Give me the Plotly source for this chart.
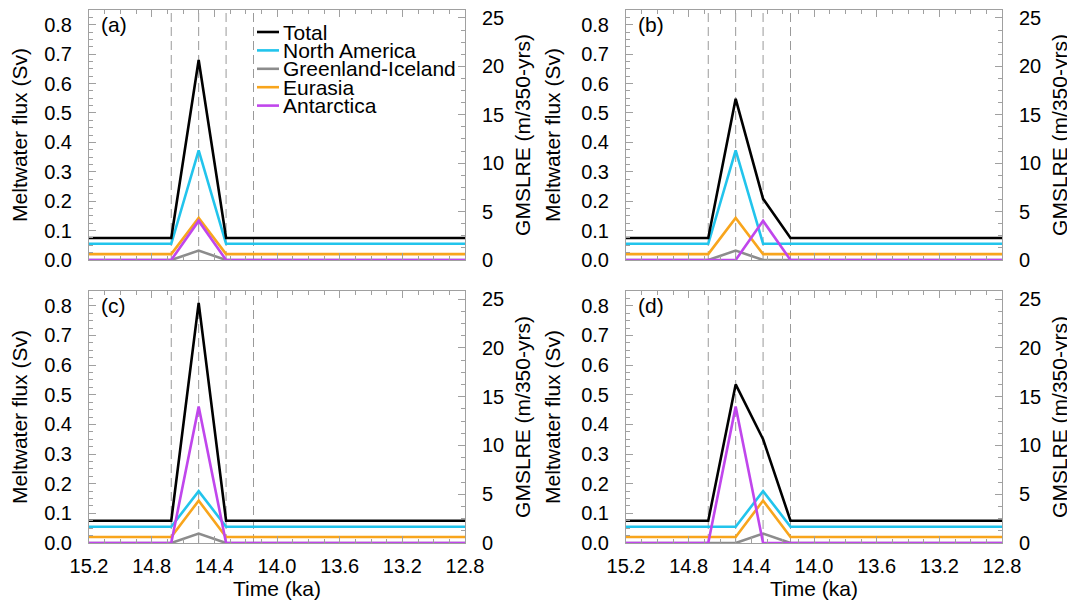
import plotly.graph_objects as go

# ---------------- data ----------------
time_ka = [15.2, 14.675, 14.5, 14.325, 14.15, 12.8]
event_lines = [14.675, 14.5, 14.325, 14.15]

total_a = [0.075, 0.075, 0.680, 0.075, 0.075, 0.075]
na_a = [0.055, 0.055, 0.373, 0.055, 0.055, 0.055]
gi_a = [0.0, 0.0, 0.032, 0.0, 0.0, 0.0]
eu_a = [0.02, 0.02, 0.143, 0.02, 0.02, 0.02]
an_a = [0.0, 0.0, 0.133, 0.0, 0.0, 0.0]

total_b = [0.075, 0.075, 0.548, 0.208, 0.075, 0.075]
na_b = [0.055, 0.055, 0.373, 0.055, 0.055, 0.055]
gi_b = [0.0, 0.0, 0.032, 0.0, 0.0, 0.0]
eu_b = [0.02, 0.02, 0.143, 0.02, 0.02, 0.02]
an_b = [0.0, 0.0, 0.0, 0.133, 0.0, 0.0]

total_c = [0.075, 0.075, 0.810, 0.075, 0.075, 0.075]
na_c = [0.055, 0.055, 0.175, 0.055, 0.055, 0.055]
gi_c = [0.0, 0.0, 0.032, 0.0, 0.0, 0.0]
eu_c = [0.02, 0.02, 0.143, 0.02, 0.02, 0.02]
an_c = [0.0, 0.0, 0.460, 0.0, 0.0, 0.0]

total_d = [0.075, 0.075, 0.535, 0.350, 0.075, 0.075]
na_d = [0.055, 0.055, 0.055, 0.175, 0.055, 0.055]
gi_d = [0.0, 0.0, 0.0, 0.032, 0.0, 0.0]
eu_d = [0.02, 0.02, 0.02, 0.143, 0.02, 0.02]
an_d = [0.0, 0.0, 0.460, 0.0, 0.0, 0.0]

series_names = ["Total", "North America", "Greenland-Iceland", "Eurasia", "Antarctica"]
panel_labels = ["(a)", "(b)", "(c)", "(d)"]
x_ticks = [15.2, 14.8, 14.4, 14.0, 13.6, 13.2, 12.8]
sv_to_gmslre = 30.38   # m per 350 yr per Sv

# ---------------- styling ----------------
# the page body has an 8 px margin, so the figure is sized to end exactly at the window edge
OFF = 8
W, H = 1075 - OFF, 608 - OFF
FONT = "Liberation Sans, Arial, Helvetica, sans-serif"
colors = {"Total": "#000000", "North America": "#22c4ec", "Greenland-Iceland": "#8c8c8c",
          "Eurasia": "#f8a51c", "Antarctica": "#c046ec"}
frame = "#a0a0a0"


def px(xp):
    return (xp - OFF) / W


def py(yp):
    return 1 - (yp - OFF) / H


panels = [
    dict(total=total_a, na=na_a, gi=gi_a, eu=eu_a, an=an_a),
    dict(total=total_b, na=na_b, gi=gi_b, eu=eu_b, an=an_b),
    dict(total=total_c, na=na_c, gi=gi_c, eu=eu_c, an=an_c),
    dict(total=total_d, na=na_d, gi=gi_d, eu=eu_d, an=an_d),
]

xdoms = [[px(89), px(465)], [px(626), px(1002)]]
ydoms = [[py(260), py(10)], [py(543), py(291)]]

fig = go.Figure()
layout = dict(width=W, height=H, margin=dict(l=0, r=0, t=0, b=0, autoexpand=False),
              paper_bgcolor="white", plot_bgcolor="white", showlegend=False,
              font=dict(family=FONT, size=20, color="black"))
shapes = []
annotations = []

for i, p in enumerate(panels):
    n = i + 1
    xs = "x" if n == 1 else f"x{n}"
    ys = "y" if n == 1 else f"y{n}"
    yr_s = f"y{n + 4}"
    col = i % 2
    row = i // 2
    draw_order = [("Greenland-Iceland", p["gi"]), ("Eurasia", p["eu"]),
                  ("North America", p["na"]), ("Antarctica", p["an"]), ("Total", p["total"])]
    for name, vals in draw_order:
        fig.add_trace(go.Scatter(x=time_ka, y=vals, mode="lines", name=name,
                                 line=dict(color=colors[name], width=2.6),
                                 xaxis=xs, yaxis=ys, showlegend=False))
    # total expressed as GMSLRE on the right axis (same curve, kept invisible under the Sv line)
    fig.add_trace(go.Scatter(x=time_ka, y=[v * sv_to_gmslre for v in p["total"]], mode="lines",
                             name="Total (GMSLRE)", line=dict(color="rgba(0,0,0,0)", width=1),
                             hoverinfo="skip", xaxis=xs, yaxis=yr_s, showlegend=False))
    xa = dict(domain=xdoms[col], anchor=ys, range=[15.2, 12.8], tickvals=x_ticks,
              ticktext=[f"{v:.1f}" for v in x_ticks], showticklabels=(row == 1),
              ticks="inside", ticklen=7, tickcolor=frame, mirror="ticks", automargin=False,
              showline=True, linecolor=frame, linewidth=1, showgrid=False, zeroline=False,
              minor=dict(dtick=0.1, tick0=12.8, ticks="inside", ticklen=4, tickcolor=frame),
              tickfont=dict(size=20), ticklabelstandoff=5, ticklabeloverflow="allow")
    if row == 1:
        xa["title"] = dict(text="Time (ka)", font=dict(size=21), standoff=5)
    ya = dict(domain=ydoms[row], anchor=xs, range=[0, 0.85], dtick=0.1, tick0=0,
              tickformat=".1f", ticks="inside", ticklen=7, tickcolor=frame, automargin=False,
              showline=True, linecolor=frame, linewidth=1, showgrid=False, zeroline=False,
              minor=dict(dtick=0.025, ticks="inside", ticklen=4, tickcolor=frame),
              tickfont=dict(size=20), ticklabelstandoff=12, ticklabeloverflow="allow",
              title=dict(text="Meltwater flux (Sv)", font=dict(size=21), standoff=14))
    yr = dict(overlaying=ys, anchor=xs, side="right", range=[0, 0.85 * sv_to_gmslre],
              dtick=5, tick0=0, ticks="inside", ticklen=7, tickcolor=frame, automargin=False,
              showline=True, linecolor=frame, linewidth=1, showgrid=False, zeroline=False,
              minor=dict(dtick=1.25, ticks="inside", ticklen=4, tickcolor=frame),
              tickfont=dict(size=20), ticklabelstandoff=12, ticklabeloverflow="allow",
              title=dict(text="GMSLRE (m/350-yrs)", font=dict(size=21), standoff=12))
    layout["xaxis" if n == 1 else f"xaxis{n}"] = xa
    layout["yaxis" if n == 1 else f"yaxis{n}"] = ya
    layout[f"yaxis{n + 4}"] = yr

    for xv in event_lines:
        shapes.append(dict(type="line", xref=xs, yref=f"{ys} domain", x0=xv, x1=xv, y0=0, y1=1,
                           line=dict(color="#9a9a9a", width=1, dash="9px,5px"), layer="below"))
    annotations.append(dict(text=panel_labels[i], xref="paper", yref="paper",
                            x=px((89 if col == 0 else 626) + 10),
                            y=py((10 if row == 0 else 291) + 15),
                            xanchor="left", yanchor="middle", showarrow=False,
                            font=dict(size=21, color="black")))

# legend drawn in panel (a)
leg_x0, leg_x1, leg_tx = 257, 279, 281
leg_y = [32, 50.4, 68.8, 87.2, 105.6]
for name, yy in zip(series_names, leg_y):
    shapes.append(dict(type="line", xref="paper", yref="paper", x0=px(leg_x0), x1=px(leg_x1),
                       y0=py(yy), y1=py(yy), line=dict(color=colors[name], width=2.6)))
    annotations.append(dict(text=name, xref="paper", yref="paper", x=px(leg_tx), y=py(yy),
                            xanchor="left", yanchor="middle", showarrow=False,
                            font=dict(size=21, color="black")))

layout["shapes"] = shapes
layout["annotations"] = annotations
fig.update_layout(**layout)
fig.write_html("out.html")
